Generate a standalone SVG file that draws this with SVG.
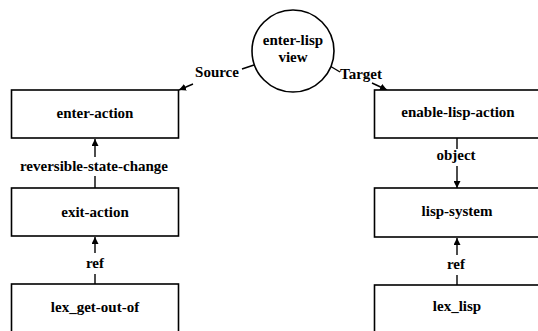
<svg xmlns="http://www.w3.org/2000/svg" width="538" height="331" viewBox="0 0 538 331">
<style>
.box{fill:#fff;stroke:#000;stroke-width:1.6}
.ln{fill:none;stroke:#000;stroke-width:1.4}
text{font-family:"Liberation Serif","Times New Roman",serif;font-size:15px;font-weight:bold;fill:#000;text-anchor:middle}
</style>
<defs>
<marker id="ah" viewBox="0 0 10 10" refX="10" refY="5" markerWidth="7" markerHeight="7" markerUnits="userSpaceOnUse" orient="auto">
<path d="M0,0 L10,5 L0,10 z" fill="#000"/>
</marker>
</defs>
<rect width="538" height="331" fill="#fff"/>
<g id="connectors">
<line class="ln" x1="254" y1="65" x2="242" y2="69"/>
<line class="ln" x1="193" y1="84" x2="179" y2="90" marker-end="url(#ah)"/>
<line class="ln" x1="330" y1="66" x2="340" y2="72"/>
<line class="ln" x1="372" y1="83" x2="387" y2="90" marker-end="url(#ah)"/>
<line class="ln" x1="95" y1="188" x2="95" y2="176"/>
<line class="ln" x1="95" y1="157" x2="95" y2="139" marker-end="url(#ah)"/>
<line class="ln" x1="95" y1="284" x2="95" y2="274"/>
<line class="ln" x1="95" y1="253" x2="95" y2="237" marker-end="url(#ah)"/>
<line class="ln" x1="457" y1="138" x2="457" y2="149"/>
<line class="ln" x1="457" y1="166" x2="457" y2="188" marker-end="url(#ah)"/>
<line class="ln" x1="457" y1="285" x2="457" y2="275"/>
<line class="ln" x1="457" y1="255" x2="457" y2="238" marker-end="url(#ah)"/>
<text x="217" y="77">Source</text>
<text x="361" y="79">Target</text>
<text x="94" y="171">reversible-state-change</text>
<text x="95" y="268">ref</text>
<text x="456" y="160">object</text>
<text x="456" y="269">ref</text>
</g>
<g id="enter-lisp-view">
<circle cx="293" cy="51" r="41" fill="#fff" stroke="#000" stroke-width="1.6"/>
<text x="293" y="45">enter-lisp</text>
<text x="293" y="62">view</text>
</g>
<g id="enter-action">
<rect class="box" x="11.5" y="90" width="167" height="48"/>
<text x="95" y="118">enter-action</text>
</g>
<g id="exit-action">
<rect class="box" x="11.5" y="188" width="167" height="48"/>
<text x="95" y="217">exit-action</text>
</g>
<g id="lex_get-out-of">
<rect class="box" x="11.5" y="284" width="167" height="60"/>
<text x="95" y="312">lex_get-out-of</text>
</g>
<g id="enable-lisp-action">
<rect class="box" x="374.5" y="90" width="167" height="48"/>
<text x="458" y="117">enable-lisp-action</text>
</g>
<g id="lisp-system">
<rect class="box" x="374.5" y="188" width="167" height="49"/>
<text x="457" y="216">lisp-system</text>
</g>
<g id="lex_lisp">
<rect class="box" x="374.5" y="285" width="167" height="60"/>
<text x="457" y="311">lex_lisp</text>
</g>
</svg>
